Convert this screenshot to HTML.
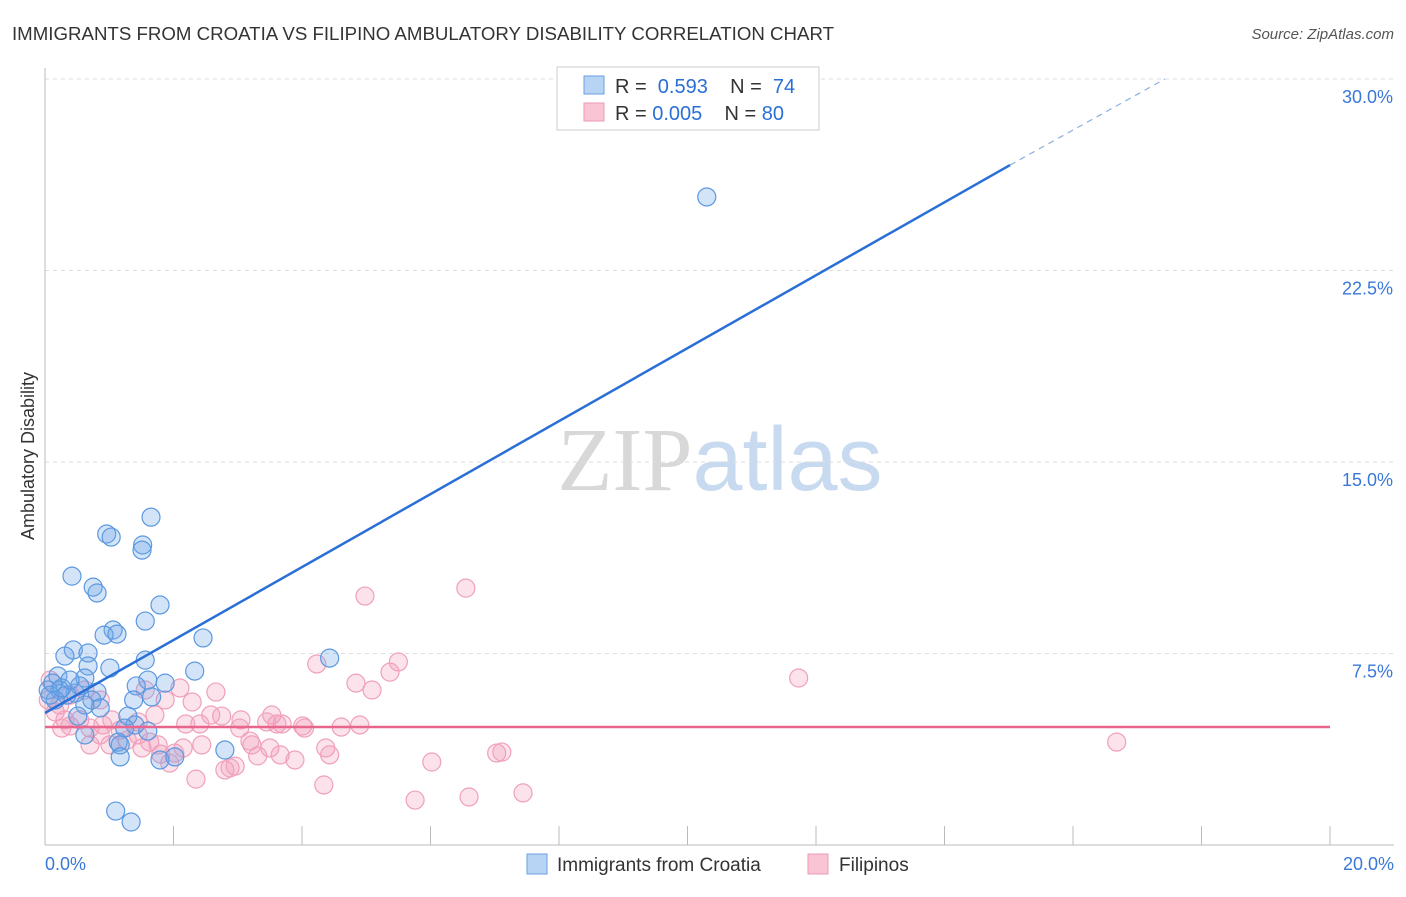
<!DOCTYPE html>
<html><head><meta charset="utf-8"><style>
body{margin:0;background:#fff;font-family:"Liberation Sans",sans-serif;}
svg text{font-family:"Liberation Sans",sans-serif;}
</style></head><body>
<svg id="chart" width="1406" height="892" xmlns="http://www.w3.org/2000/svg">
<text x="12" y="40" font-size="18" fill="#333" textLength="822" lengthAdjust="spacingAndGlyphs">IMMIGRANTS FROM CROATIA VS FILIPINO AMBULATORY DISABILITY CORRELATION CHART</text>
<text x="1394" y="39" font-size="15" fill="#555" text-anchor="end" font-style="italic">Source: ZipAtlas.com</text>
<text x="720" y="490" font-size="90" text-anchor="middle"><tspan fill="#d8d8d8" font-family="Liberation Serif">ZIP</tspan><tspan fill="#c8daf0">atlas</tspan></text>
<text transform="translate(34,456) rotate(-90)" font-size="18" fill="#333" text-anchor="middle">Ambulatory Disability</text>
<g id="grid"></g><g id="axes"></g><g id="pts"></g><g id="lines"></g>
<g>
<rect x="557" y="67" width="262" height="63" fill="#fff" stroke="#ccc"/>
<rect x="584" y="76" width="20" height="18" fill="#b8d4f5" stroke="#6aa0e0"/>
<rect x="584" y="103" width="20" height="18" fill="#f9c4d4" stroke="#ef9ab4"/>
<text x="615" y="93" font-size="20" fill="#333">R = <tspan fill="#2a6fd6">&#160;0.593</tspan>&#160;&#160;&#160;&#160;N = <tspan fill="#2a6fd6">&#160;74</tspan></text>
<text x="615" y="120" font-size="20" fill="#333">R = <tspan fill="#2a6fd6">0.005</tspan>&#160;&#160;&#160;&#160;N = <tspan fill="#2a6fd6">80</tspan></text>
</g>
<g>
<rect x="527" y="854" width="20" height="20" fill="#b8d4f5" stroke="#6aa0e0"/>
<text x="557" y="871" font-size="19" fill="#333">Immigrants from Croatia</text>
<rect x="808" y="854" width="20" height="20" fill="#f9c4d4" stroke="#ef9ab4"/>
<text x="839" y="871" font-size="19" fill="#333">Filipinos</text>
</g>
</svg>
<script>
const xTicks=[0,2,4,6,8,10,12,14,16,18,20];
const yTicks=[7.5,15,22.5,30];
const yTickLabels=["7.5%","15.0%","22.5%","30.0%"];
const xTickLabels=["0.0%","20.0%"];
const croatiaX=[10.30,1.65,0.96,1.03,1.52,1.51,0.42,0.75,0.81,1.79,1.56,1.06,0.92,1.12,2.46,0.44,0.31,0.67,1.56,4.43,1.01,0.67,2.33,0.20,0.62,1.60,1.87,1.42,0.81,0.47,0.54,0.23,0.34,1.38,0.73,0.86,0.62,0.16,0.05,0.08,0.26,1.66,0.51,1.29,1.40,1.60,1.24,0.62,1.14,1.17,2.80,1.17,1.79,2.02,1.10,1.34,0.12,0.39];
const croatiaY=[25.38,12.84,12.18,12.06,11.75,11.55,10.53,10.10,9.87,9.40,8.77,8.42,8.22,8.26,8.11,7.64,7.40,7.52,7.24,7.32,6.93,7.01,6.81,6.62,6.54,6.46,6.34,6.23,5.99,5.95,6.23,6.07,5.87,5.68,5.68,5.37,5.48,5.68,6.07,5.87,6.15,5.80,5.05,5.05,4.70,4.46,4.58,4.31,4.03,3.92,3.72,3.45,3.33,3.45,1.33,0.90,6.34,6.46];
const filipinoX=[16.68,11.73,6.55,4.98,5.50,5.37,4.23,4.84,5.09,2.10,2.66,2.29,1.87,1.71,2.58,3.05,3.53,3.45,3.61,3.69,4.01,4.61,3.03,2.19,3.19,3.22,2.44,2.15,1.76,1.63,1.80,2.02,3.31,3.66,3.89,4.37,4.43,1.94,2.96,2.80,2.88,2.35,4.34,6.02,7.03,7.11,5.76,6.60,7.44,1.01,0.86,0.31,0.39,0.54,0.70,0.90,1.17,1.45,0.23,0.08,0.05,0.16,0.39,0.62,1.56,1.04,1.28,1.45,0.70,2.41,3.50,4.04,4.90,2.75,0.86,0.26,1.51];
const filipinoY=[4.03,6.54,10.06,9.75,7.17,6.77,7.09,6.34,6.07,6.15,5.99,5.60,5.68,5.09,5.09,4.90,5.09,4.82,4.74,4.74,4.66,4.62,4.58,4.74,4.07,3.92,3.92,3.80,3.92,4.03,3.56,3.60,3.49,3.53,3.33,3.80,3.53,3.21,3.09,2.94,3.02,2.58,2.35,3.25,3.60,3.64,1.76,1.88,2.04,3.92,4.31,4.90,4.66,4.90,4.58,4.70,4.50,4.31,5.48,6.46,5.68,5.21,5.87,6.07,6.07,4.90,4.11,4.82,3.92,4.74,3.80,4.58,4.70,5.05,5.68,4.58,3.80];
const croatiaTrendX=[0,15.02,17.43];
const croatiaTrendY=[5.17,26.63,30.0];
const filipinoTrendX=[0,20];
const filipinoTrendY=[4.62,4.62];
const NS="http://www.w3.org/2000/svg";
const sx=v=>45+v/20*1285, sy=v=>845-v/7.5*191.5;
function mk(tag,attrs,parent){const e=document.createElementNS(NS,tag);for(const k in attrs)e.setAttribute(k,attrs[k]);document.getElementById(parent).appendChild(e);return e;}
yTicks.forEach((t,i)=>{
 const g=mk('line',{x1:45,x2:1394,y1:sy(t),y2:sy(t),stroke:'#ddd','stroke-dasharray':'4,4'},'grid');
 
 
 const l=mk('text',{x:1393,y:sy(t)+24,'font-size':18,fill:'#3a78d8','text-anchor':'end'},'axes');
 l.textContent=yTickLabels[i];
 
 
});
const ax=mk('line',{x1:45,x2:45,y1:68,y2:845,stroke:'#bbb'},'axes');


const bx=mk('line',{x1:45,x2:1394,y1:845,y2:845,stroke:'#bbb'},'axes');


xTicks.forEach(t=>{
 const k=mk('line',{x1:sx(t),x2:sx(t),y1:826,y2:845,stroke:'#bbb'},'axes');
 
 
});
[[0,45,'start'],[1,1394,'end']].forEach(([i,x,a])=>{
 const l=mk('text',{x:x,y:870,'font-size':18,fill:'#3a78d8','text-anchor':a},'axes');
 l.textContent=xTickLabels[i];
 
 
});
filipinoX.forEach((v,i)=>{
 const c=mk('circle',{cx:sx(v),cy:sy(filipinoY[i]),r:9,fill:'rgba(243,160,188,0.3)',stroke:'#f0a0ba','stroke-width':1.2},'pts');
 
 
});
croatiaX.forEach((v,i)=>{
 const c=mk('circle',{cx:sx(v),cy:sy(croatiaY[i]),r:9,fill:'rgba(110,165,232,0.3)',stroke:'#5b98e0','stroke-width':1.2},'pts');
 
 
});
const t1=mk('line',{x1:sx(croatiaTrendX[0]),y1:sy(croatiaTrendY[0]),x2:sx(croatiaTrendX[1]),y2:sy(croatiaTrendY[1]),stroke:'#2a6fd6','stroke-width':2.5},'lines');


const t2=mk('line',{x1:sx(croatiaTrendX[1]),y1:sy(croatiaTrendY[1]),x2:sx(croatiaTrendX[2]),y2:sy(croatiaTrendY[2]),stroke:'#8ab0e0','stroke-width':1.2,'stroke-dasharray':'6,5'},'lines');


const t3=mk('line',{x1:sx(filipinoTrendX[0]),y1:sy(filipinoTrendY[0]),x2:sx(filipinoTrendX[1]),y2:sy(filipinoTrendY[1]),stroke:'#e8668e','stroke-width':2.5},'lines');


</script>
</body></html>
